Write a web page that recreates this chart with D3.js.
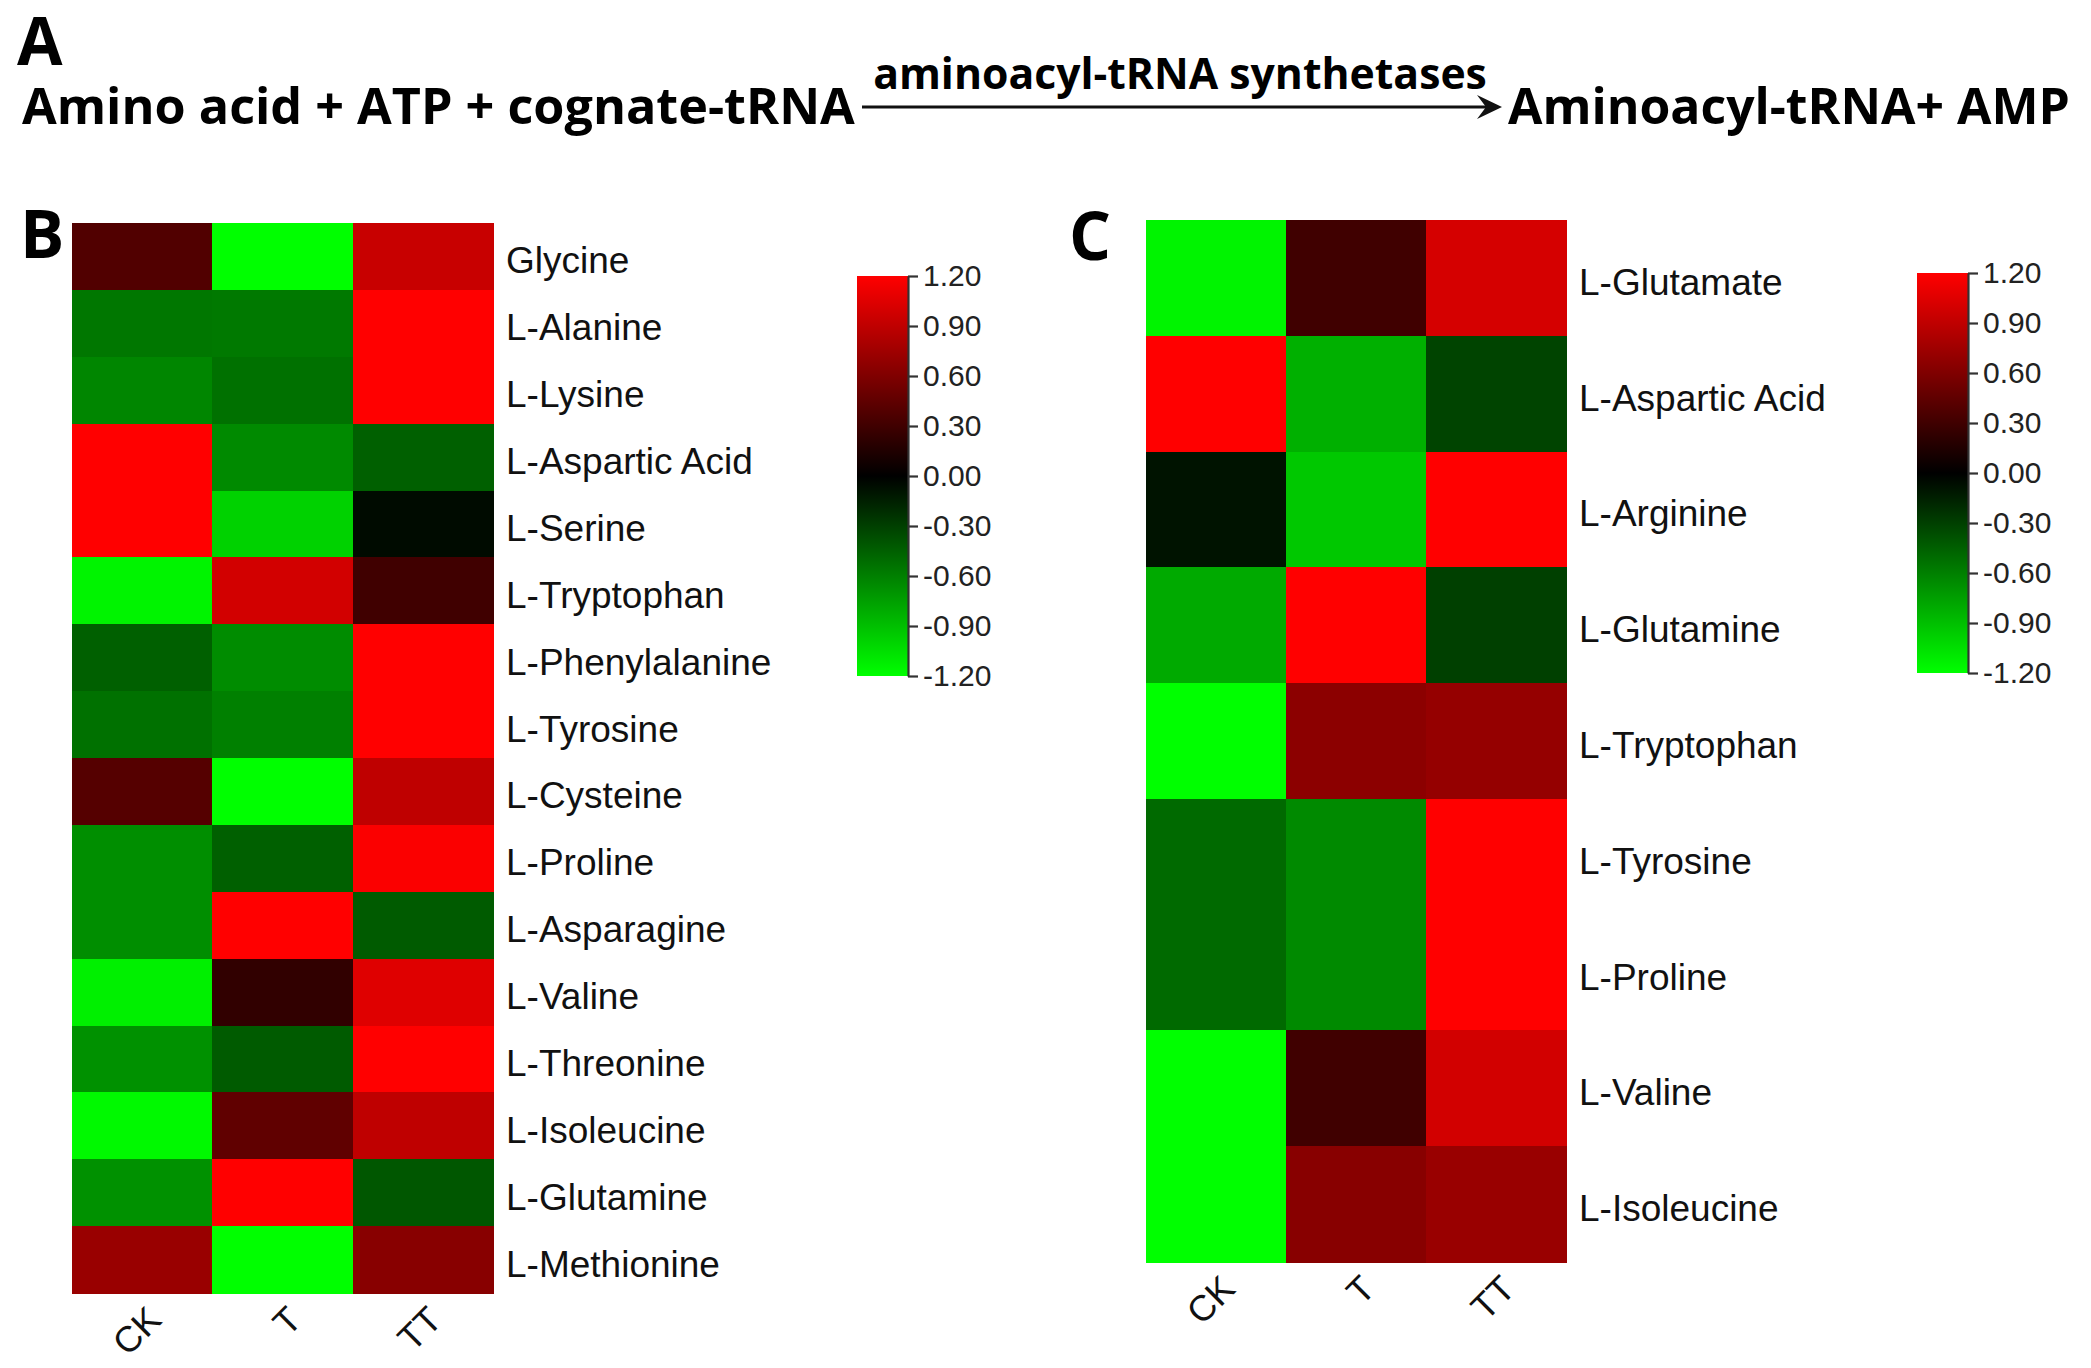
<!DOCTYPE html>
<html>
<head>
<meta charset="utf-8">
<script src="https://cdn.jsdelivr.net/npm/d3@7"></script>
<style>
  html, body { margin: 0; padding: 0; background: #fff; }
  svg { display: block; }
</style>
</head>
<body>
<svg id="chart" width="2091" height="1368"></svg>
<script>
// ---------------- DATA ----------------
const groups = ["CK", "T", "TT"];

const rowsB = ["Glycine", "L-Alanine", "L-Lysine", "L-Aspartic Acid", "L-Serine", "L-Tryptophan",
  "L-Phenylalanine", "L-Tyrosine", "L-Cysteine", "L-Proline", "L-Asparagine", "L-Valine",
  "L-Threonine", "L-Isoleucine", "L-Glutamine", "L-Methionine"];
// values per row: [CK, T, TT]
const valuesB = [
  [0.38, -1.20, 0.94],
  [-0.56, -0.57, 1.20],
  [-0.63, -0.53, 1.20],
  [1.20, -0.65, -0.45],
  [1.20, -0.99, -0.05],
  [-1.15, 0.99, 0.30],
  [-0.45, -0.66, 1.20],
  [-0.53, -0.60, 1.20],
  [0.40, -1.20, 0.90],
  [-0.67, -0.45, 1.18],
  [-0.67, 1.20, -0.43],
  [-1.13, 0.23, 1.05],
  [-0.68, -0.43, 1.20],
  [-1.17, 0.45, 0.90],
  [-0.68, 1.20, -0.41],
  [0.72, -1.20, 0.64]
];

const rowsC = ["L-Glutamate", "L-Aspartic Acid", "L-Arginine", "L-Glutamine", "L-Tryptophan",
  "L-Tyrosine", "L-Proline", "L-Valine", "L-Isoleucine"];
const valuesC = [
  [-1.15, 0.30, 1.00],
  [1.20, -0.83, -0.32],
  [-0.09, -0.94, 1.20],
  [-0.80, 1.20, -0.30],
  [-1.20, 0.66, 0.70],
  [-0.50, -0.65, 1.20],
  [-0.50, -0.65, 1.20],
  [-1.20, 0.30, 0.99],
  [-1.20, 0.64, 0.72]
];

const legendTicks = [1.2, 0.9, 0.6, 0.3, 0.0, -0.3, -0.6, -0.9, -1.2];

const reactionLeft = "Amino acid + ATP + cognate-tRNA";
const reactionEnzyme = "aminoacyl-tRNA synthetases";
const reactionRight = "Aminoacyl-tRNA+ AMP";

// ---------------- DRAW ----------------
const svg = d3.select("#chart");
const boldFont = "'Open Sans', 'Noto Sans', sans-serif";
const labelFont = "'Liberation Sans', Arial, sans-serif";

const color = d3.scaleLinear()
  .domain([-1.2, 0, 1.2])
  .range(["#00ff00", "#000000", "#ff0000"])
  .clamp(true);

// helper: fit a text to a target width
function fitText(sel, targetWidth) {
  const base = parseFloat(sel.attr("font-size"));
  const len = sel.node().getComputedTextLength();
  if (len > 0) sel.attr("font-size", base * targetWidth / len);
}

// Panel letters
svg.append("text").text("A").attr("x", 17).attr("y", 65)
  .attr("font-family", boldFont).attr("font-weight", 700).attr("font-size", 66);
svg.append("text").text("B").attr("x", 20).attr("y", 258)
  .attr("font-family", boldFont).attr("font-weight", 700).attr("font-size", 66);
svg.append("text").text("C").attr("x", 1069).attr("y", 260)
  .attr("font-family", boldFont).attr("font-weight", 700).attr("font-size", 66);

// Reaction line
const t1 = svg.append("text").text(reactionLeft).attr("x", 22).attr("y", 124)
  .attr("font-family", boldFont).attr("font-weight", 700).attr("font-size", 50);
fitText(t1, 833);

const t2 = svg.append("text").text(reactionEnzyme).attr("x", 1180).attr("y", 89)
  .attr("text-anchor", "middle")
  .attr("font-family", boldFont).attr("font-weight", 700).attr("font-size", 42);
fitText(t2, 614);

const t3 = svg.append("text").text(reactionRight).attr("x", 1508).attr("y", 124)
  .attr("font-family", boldFont).attr("font-weight", 700).attr("font-size", 50);
fitText(t3, 562);

// arrow
svg.append("line").attr("x1", 862).attr("x2", 1490).attr("y1", 107).attr("y2", 107)
  .attr("stroke", "#111").attr("stroke-width", 3);
svg.append("path")
  .attr("d", "M1502,107 L1477,95 L1486,107 L1477,119 Z")
  .attr("fill", "#111");

const fmt = d3.format(".2f");

// Heatmap drawing function
function heatmap(opts) {
  const { rows, values, x0, x1, y0, y1, barX, barY0, barY1 } = opts;
  const g = svg.append("g");
  const x = d3.scaleBand().domain(groups).range([x0, x1]);
  const y = d3.scaleBand().domain(rows).range([y0, y1]);

  const cells = [];
  rows.forEach((r, i) => groups.forEach((c, j) => cells.push({ r, c, v: values[i][j] })));

  g.selectAll("rect.cell").data(cells).join("rect")
    .attr("class", "cell")
    .attr("x", d => x(d.c))
    .attr("y", d => y(d.r))
    .attr("width", x.bandwidth() + 0.5)
    .attr("height", y.bandwidth() + 0.5)
    .attr("fill", d => color(d.v))
    .attr("shape-rendering", "crispEdges");

  // row labels
  g.selectAll("text.row").data(rows).join("text")
    .attr("class", "row")
    .attr("x", x1 + 13)
    .attr("y", d => y(d) + y.bandwidth() / 2 + 17)
    .attr("font-family", labelFont)
    .attr("font-size", 37)
    .attr("fill", "#111")
    .text(d => d);

  // column labels (rotated)
  g.selectAll("text.col").data(groups).join("text")
    .attr("class", "col")
    .attr("text-anchor", "end")
    .attr("transform", d => `translate(${x(d) + x.bandwidth() / 2 + 21},${y1 + 29}) rotate(-45)`)
    .attr("font-family", labelFont)
    .attr("font-size", 36)
    .attr("fill", "#111")
    .text(d => d);

  // color bar
  const gradId = "grad" + Math.round(x0);
  const defs = svg.append("defs");
  const grad = defs.append("linearGradient").attr("id", gradId)
    .attr("x1", 0).attr("y1", 1).attr("x2", 0).attr("y2", 0);
  [-1.2, 0, 1.2].forEach(v => {
    grad.append("stop").attr("offset", (v + 1.2) / 2.4).attr("stop-color", color(v));
  });
  const barW = 51;
  g.append("rect")
    .attr("x", barX).attr("y", barY0)
    .attr("width", barW).attr("height", barY1 - barY0)
    .attr("fill", `url(#${gradId})`);

  const ly = d3.scaleLinear().domain([-1.2, 1.2]).range([barY1, barY0]);
  const axis = d3.axisRight(ly)
    .tickValues(legendTicks)
    .tickFormat(d => fmt(d).replace("\u2212", "-"))
    .tickSize(10)
    .tickSizeOuter(0)
    .tickPadding(5);
  const ag = g.append("g")
    .attr("transform", `translate(${barX + barW},0)`)
    .call(axis);
  ag.select(".domain").attr("stroke", "#333").attr("stroke-width", 2.2);
  ag.selectAll(".tick line").attr("stroke", "#333").attr("stroke-width", 2.2);
  ag.selectAll(".tick text")
    .attr("font-family", labelFont)
    .attr("font-size", 30)
    .attr("fill", "#222");
}

heatmap({ rows: rowsB, values: valuesB, x0: 72, x1: 493, y0: 223, y1: 1293,
  barX: 857, barY0: 276, barY1: 676 });
heatmap({ rows: rowsC, values: valuesC, x0: 1146, x1: 1566, y0: 220, y1: 1262,
  barX: 1917, barY0: 273, barY1: 673 });
</script>
</body>
</html>
